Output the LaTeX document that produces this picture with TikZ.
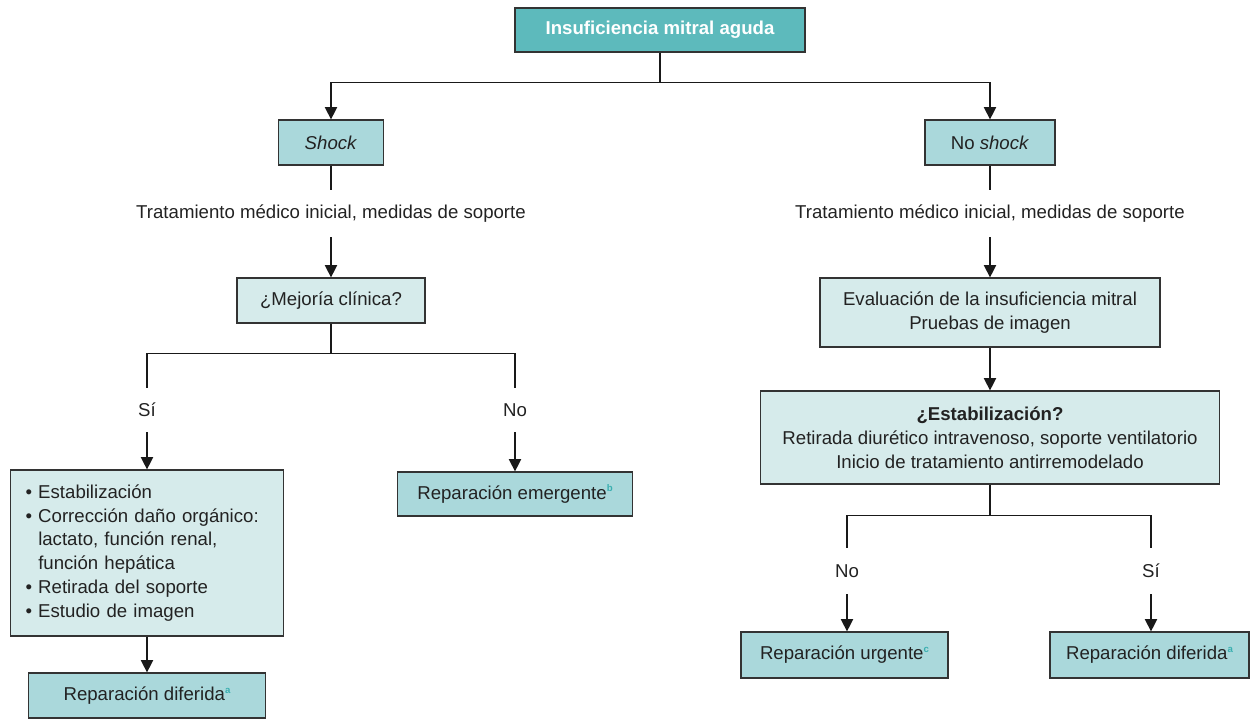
\documentclass[tikz,border=0pt]{standalone}
\usepackage{fontspec}
\setmainfont{Liberation Sans}
\usetikzlibrary{arrows.meta}
\definecolor{topfill}{HTML}{5DBABC}
\definecolor{midfill}{HTML}{AAD8DB}
\definecolor{lightfill}{HTML}{D6EBEB}
\definecolor{supc}{HTML}{3AAFB0}
\definecolor{edgec}{HTML}{333333}
\definecolor{txtc}{HTML}{222222}
\newcommand\supmark[1]{\raisebox{0.75ex}{\fontsize{5.5}{6}\selectfont\bfseries\textcolor{supc}{#1}}}
\begin{document}
\begin{tikzpicture}[x=0.02cm,y=-0.02cm,
  font=\fontsize{10.6}{13.6}\selectfont,
  box/.style={draw=edgec, line width=0.7pt, inner sep=0pt, align=center, text=txtc},
  topbox/.style={box, fill=topfill, text=white, font=\fontsize{10.6}{13.6}\selectfont\bfseries},
  midbox/.style={box, fill=midfill},
  lightbox/.style={box, fill=lightfill},
  lbl/.style={inner sep=0pt, minimum height=0.9cm, text=txtc},
  conn/.style={line width=0.7pt, draw=black!90},
  arr/.style={conn, -{Triangle[width=7pt,length=7pt]}}
]
\useasboundingbox (0,0) rectangle (1250,719);

% nodes
\node[topbox, minimum width=5.8cm, minimum height=0.88cm] (top) at (660,30) {Insuficiencia mitral aguda};

\node[midbox, minimum width=2.1cm, minimum height=0.9cm] (shock) at (331,142.5) {\textit{Shock}};
\node[midbox, minimum width=2.6cm, minimum height=0.9cm] (noshock) at (990,142.5) {No \textit{shock}};

\node[lbl, minimum height=0.94cm] (tratL) at (331,213.5) {Tratamiento médico inicial, medidas de soporte};
\node[lbl, minimum height=0.94cm] (tratR) at (990,213.5) {Tratamiento médico inicial, medidas de soporte};

\node[lightbox, minimum width=3.76cm, minimum height=0.9cm] (mej) at (331,300.5) {¿Mejoría clínica?};
\node[lightbox, minimum width=6.8cm, minimum height=1.38cm] (eval) at (990,312.5) {Evaluación de la insuficiencia mitral\\Pruebas de imagen};

\node[lbl, minimum height=0.88cm] (siL) at (147,410) {Sí};
\node[lbl, minimum height=0.88cm] (noL) at (515,410) {No};

\node[lightbox, text width=4.86cm, inner xsep=0.30cm, minimum height=3.32cm, align=left] (bul) at (147,553)
  {\textbullet\ Estabilización\\
   \textbullet\ Corrección daño orgánico:\\
   \hphantom{\textbullet\ }lactato, función renal,\\
   \hphantom{\textbullet\ }función hepática\\
   \textbullet\ Retirada del soporte\\
   \textbullet\ Estudio de imagen};

\node[midbox, minimum width=4.7cm, minimum height=0.88cm] (emer) at (515,494) {Reparación emergente\supmark{b}};
\node[midbox, minimum width=4.74cm, minimum height=0.9cm] (difL) at (147,695.5) {Reparación diferida\supmark{a}};

\node[lightbox, minimum width=9.18cm, minimum height=1.86cm] (estab) at (990,437.5)
  {\textbf{¿Estabilización?}\\Retirada diurético intravenoso, soporte ventilatorio\\Inicio de tratamiento antirremodelado};

\node[lbl, minimum height=0.92cm] (noR) at (847,571) {No};
\node[lbl, minimum height=0.92cm] (siR) at (1151,571) {Sí};

\node[midbox, minimum width=4.14cm, minimum height=0.92cm] (urg) at (844.5,655) {Reparación urgente\supmark{c}};
\node[midbox, minimum width=3.98cm, minimum height=0.92cm] (difR) at (1149.5,655) {Reparación diferida\supmark{a}};

% connectors
\draw[arr] (top.south) -- ++(0,30) coordinate (j1) -| (shock.north);
\draw[arr] (j1) -| (noshock.north);

\draw[conn] (shock.south) -- (tratL.north);
\draw[arr] (tratL.south) -- (mej.north);
\draw[conn] (noshock.south) -- (tratR.north);
\draw[arr] (tratR.south) -- (eval.north);

\draw[conn] (mej.south) -- ++(0,30) coordinate (j2) -| (siL.north);
\draw[conn] (j2) -| (noL.north);
\draw[arr] (siL.south) -- (bul.north);
\draw[arr] (noL.south) -- (emer.north);
\draw[arr] (bul.south) -- (difL.north);

\draw[arr] (eval.south) -- (estab.north);
\draw[conn] (estab.south) -- ++(0,31) coordinate (j3) -| (noR.north);
\draw[conn] (j3) -| (siR.north);
\draw[arr] (noR.south) -- (noR.south |- urg.north);
\draw[arr] (siR.south) -- (siR.south |- difR.north);
\end{tikzpicture}
\end{document}
